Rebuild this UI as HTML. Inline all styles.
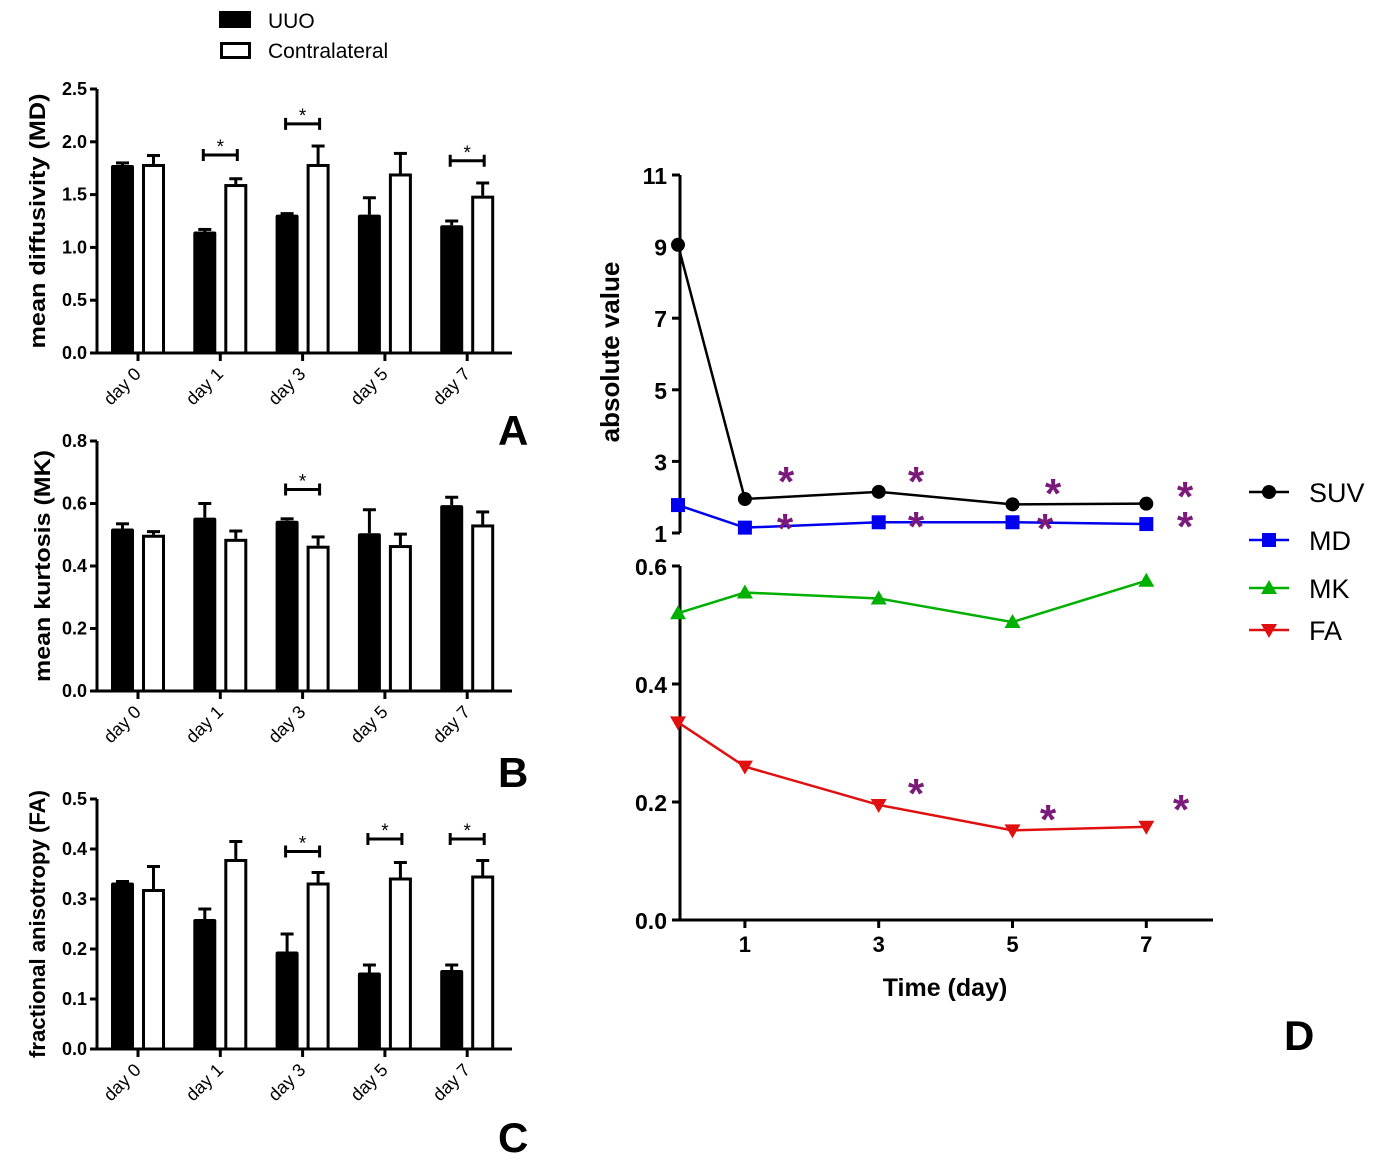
<!DOCTYPE html>
<html><head><meta charset="utf-8"><style>
html,body{margin:0;padding:0;background:#fff;}
svg{display:block;font-family:"Liberation Sans",Arial,sans-serif;}
</style></head><body>
<svg id="fig" width="1377" height="1165" viewBox="0 0 1377 1165" xmlns="http://www.w3.org/2000/svg">
<g>
<rect x="219" y="11" width="32" height="17" fill="#000"/>
<text x="268" y="28" font-size="21">UUO</text>
<rect x="221.5" y="43.5" width="28" height="14" fill="#fff" stroke="#000" stroke-width="3"/>
<text x="268" y="58" font-size="21">Contralateral</text>
</g>
</svg>
<script>
const categories = ["day 0","day 1","day 3","day 5","day 7"];
const mdUUO = [1.78,1.15,1.31,1.31,1.21];
const mdUUOErr = [0.02,0.02,0.01,0.16,0.04];
const mdContra = [1.79,1.60,1.79,1.70,1.49];
const mdContraErr = [0.08,0.05,0.17,0.19,0.12];
const mdTicks = ["0.0","0.5","1.0","1.5","2.0","2.5"];
const mdSig = [null,1.875,2.17,null,1.82];
const mkUUO = [0.52,0.555,0.545,0.505,0.595];
const mkUUOErr = [0.015,0.045,0.006,0.075,0.025];
const mkContra = [0.50,0.487,0.465,0.467,0.533];
const mkContraErr = [0.01,0.025,0.028,0.035,0.04];
const mkTicks = ["0.0","0.2","0.4","0.6","0.8"];
const mkSig = [null,null,0.645,null,null];
const faUUO = [0.333,0.26,0.195,0.153,0.158];
const faUUOErr = [0.002,0.02,0.035,0.015,0.01];
const faContra = [0.32,0.38,0.333,0.343,0.347];
const faContraErr = [0.045,0.035,0.02,0.03,0.03];
const faTicks = ["0.0","0.1","0.2","0.3","0.4","0.5"];
const faSig = [null,null,0.395,0.42,0.42];
const days = [0,1,3,5,7];
const dayTicks = ["1","3","5","7"];
const suv = [9.05,1.95,2.15,1.8,1.82];
const md = [1.78,1.15,1.3,1.3,1.25];
const mk = [0.52,0.555,0.545,0.505,0.575];
const fa = [0.335,0.26,0.195,0.152,0.158];
const upperTicks = ["1","3","5","7","9","11"];
const lowerTicks = ["0.0","0.2","0.4","0.6"];

const NS="http://www.w3.org/2000/svg";
const svg=document.getElementById('fig');
function el(tag,attrs,parent,text){const e=document.createElementNS(NS,tag);for(const k in attrs)e.setAttribute(k,attrs[k]);if(text!==undefined)e.textContent=text;(parent||svg).appendChild(e);return e;}

function barPanel(name,cfg){
  const g=el('g',{});
  
  
  const y0=cfg.y0,y1=cfg.y1,vmax=cfg.vmax;
  const ys=v=>y0-(v/vmax)*(y0-y1);
  const xc=i=>138+i*82.3;
  const ax=el('path',{d:`M97 ${y1} V${y0} H512`,stroke:'#000','stroke-width':3,fill:'none'},g);
  
  
  cfg.ticks.forEach((t,i)=>{
    const v=parseFloat(t);const y=ys(v);
    el('line',{x1:90,x2:97,y1:y,y2:y,stroke:'#000','stroke-width':3},g);
    const tx=el('text',{x:87,y:y+6,'font-size':18,'font-weight':'bold','text-anchor':'end'},g,t);
    
    
  });
  const yl=el('text',{transform:`translate(${cfg.lx},${(y0+y1)/2}) rotate(-90)`,'font-size':22,'font-weight':'bold','text-anchor':'middle',textLength:cfg.tl,lengthAdjust:'spacingAndGlyphs'},g,cfg.label);
  
  
  categories.forEach((c,i)=>{
    const x=xc(i);
    el('line',{x1:x,x2:x,y1:y0,y2:y0+8,stroke:'#000','stroke-width':3},g);
    const tl=el('text',{transform:`translate(${x+4},${y0+22}) rotate(-45)`,'font-size':18,'text-anchor':'end'},g,c);
    
    
    const uy=ys(cfg.uuo[i]);
    el('line',{x1:x-15.5,x2:x-15.5,y1:uy,y2:ys(cfg.uuo[i]+cfg.uuoErr[i]),stroke:'#000','stroke-width':3},g);
    el('line',{x1:x-22,x2:x-9,y1:ys(cfg.uuo[i]+cfg.uuoErr[i]),y2:ys(cfg.uuo[i]+cfg.uuoErr[i]),stroke:'#000','stroke-width':3},g);
    const b1=el('rect',{x:x-27,y:uy,width:23,height:y0-uy,fill:'#000',rx:2},g);
    
    
    const cy=ys(cfg.con[i]);
    el('line',{x1:x+15.5,x2:x+15.5,y1:cy,y2:ys(cfg.con[i]+cfg.conErr[i]),stroke:'#000','stroke-width':3},g);
    el('line',{x1:x+9,x2:x+22,y1:ys(cfg.con[i]+cfg.conErr[i]),y2:ys(cfg.con[i]+cfg.conErr[i]),stroke:'#000','stroke-width':3},g);
    const b2=el('rect',{x:x+5.5,y:cy+1.5,width:20,height:y0-cy-1.5,fill:'#fff',stroke:'#000','stroke-width':3},g);
    
    
    if(cfg.sig[i]!==null){
      const sy=ys(cfg.sig[i]);
      const s=el('path',{d:`M${x-17} ${sy-6} V${sy+6} M${x-17} ${sy} H${x+17} M${x+17} ${sy-6} V${sy+6}`,stroke:'#000','stroke-width':3,fill:'none'},g);
      
      
      el('text',{x:x,y:sy-2,'font-size':19,'text-anchor':'middle'},g,'*');
    }
  });
  const L=el('text',{x:498,y:cfg.letterY,'font-size':42,'font-weight':'bold'},g,cfg.letter);
  
  
}
barPanel('panel-a-md',{y0:353,y1:89,vmax:2.5,ticks:mdTicks,uuo:mdUUO,uuoErr:mdUUOErr,con:mdContra,conErr:mdContraErr,sig:mdSig,label:'mean diffusivity (MD)',lx:45,tl:255,letter:'A',letterY:445});
barPanel('panel-b-mk',{y0:691,y1:441,vmax:0.8,ticks:mkTicks,uuo:mkUUO,uuoErr:mkUUOErr,con:mkContra,conErr:mkContraErr,sig:mkSig,label:'mean kurtosis (MK)',lx:50,tl:232,letter:'B',letterY:787});
barPanel('panel-c-fa',{y0:1049,y1:799,vmax:0.5,ticks:faTicks,uuo:faUUO,uuoErr:faUUOErr,con:faContra,conErr:faContraErr,sig:faSig,label:'fractional anisotropy (FA)',lx:45,tl:268,letter:'C',letterY:1152});

const gd=el('g',{});


const xs=d=>678+d*66.9;
const yu=v=>533-(v-1)*(533-175)/10;
const yl=v=>920-v*(920-566)/0.6;
const axD=el('path',{d:`M680 175 V533 M680 566 V920 H1213`,stroke:'#000','stroke-width':3,fill:'none'},gd);


upperTicks.forEach(t=>{const y=yu(+t);el('line',{x1:672,x2:680,y1:y,y2:y,stroke:'#000','stroke-width':3},gd);
  const tx=el('text',{x:667,y:y+9,'font-size':23,'font-weight':'bold','text-anchor':'end'},gd,t);
  
  });
lowerTicks.forEach(t=>{const y=yl(+t);el('line',{x1:672,x2:680,y1:y,y2:y,stroke:'#000','stroke-width':3},gd);
  const tx=el('text',{x:667,y:y+9,'font-size':23,'font-weight':'bold','text-anchor':'end'},gd,t);
  
  });
dayTicks.forEach(t=>{const x=xs(+t);el('line',{x1:x,x2:x,y1:920,y2:928,stroke:'#000','stroke-width':3},gd);
  const tx=el('text',{x:x,y:952,'font-size':22,'font-weight':'bold','text-anchor':'middle'},gd,t);
  
  });
const yt=el('text',{transform:'translate(619,352) rotate(-90)','font-size':26,'font-weight':'bold','text-anchor':'middle'},gd,'absolute value');


const xt=el('text',{x:945,y:996,'font-size':25,'font-weight':'bold','text-anchor':'middle'},gd,'Time (day)');


function marker(type,x,y,color,parent){
  if(type==='circle')return el('circle',{cx:x,cy:y,r:7,fill:color},parent);
  if(type==='square')return el('rect',{x:x-7,y:y-7,width:14,height:14,fill:color},parent);
  if(type==='up')return el('path',{d:`M${x} ${y-8} L${x+8} ${y+6} L${x-8} ${y+6}Z`,fill:color},parent);
  return el('path',{d:`M${x} ${y+8} L${x+8} ${y-6} L${x-8} ${y-6}Z`,fill:color},parent);
}
function series(name,vals,scale,color,type){
  const g=el('g',{},gd);
  
  
  const pts=vals.map((v,i)=>[xs(days[i]),scale(v)]);
  const ln=el('polyline',{points:pts.map(p=>p.join(',')).join(' '),fill:'none',stroke:color,'stroke-width':2.5},g);
  
  
  pts.forEach(p=>{const m=marker(type,p[0],p[1],color,g);
    
    });
}
series('series-suv',suv,yu,'#000','circle');
series('series-md',md,yu,'#0000ee','square');
series('series-mk',mk,yl,'#00b000','up');
series('series-fa',fa,yl,'#e01010','down');
const stars=[[786,491],[916,491],[1053,503],[1185,506],[785,538],[916,536],[1045,538],[1185,536],[916,803],[1048,829],[1181,819]];
stars.forEach(s=>{const t=el('text',{x:s[0],y:s[1]+5,'font-size':42,'font-weight':'bold',fill:'#7a1a7a','text-anchor':'middle'},gd,'*');
  
  });
const lg=el('g',{},gd);


[['SUV','#000','circle',492],['MD','#0000ee','square',540],['MK','#00b000','up',588],['FA','#e01010','down',630]].forEach(r=>{
  const e=el('g',{},lg);
  
  
  el('line',{x1:1249,x2:1289,y1:r[3],y2:r[3],stroke:r[1],'stroke-width':2.5},e);
  marker(r[2],1269,r[3],r[1],e);
  el('text',{x:1309,y:r[3]+10,'font-size':27},e,r[0]);
});
const LD=el('text',{x:1284,y:1050,'font-size':42,'font-weight':'bold'},gd,'D');


</script>
</body></html>
